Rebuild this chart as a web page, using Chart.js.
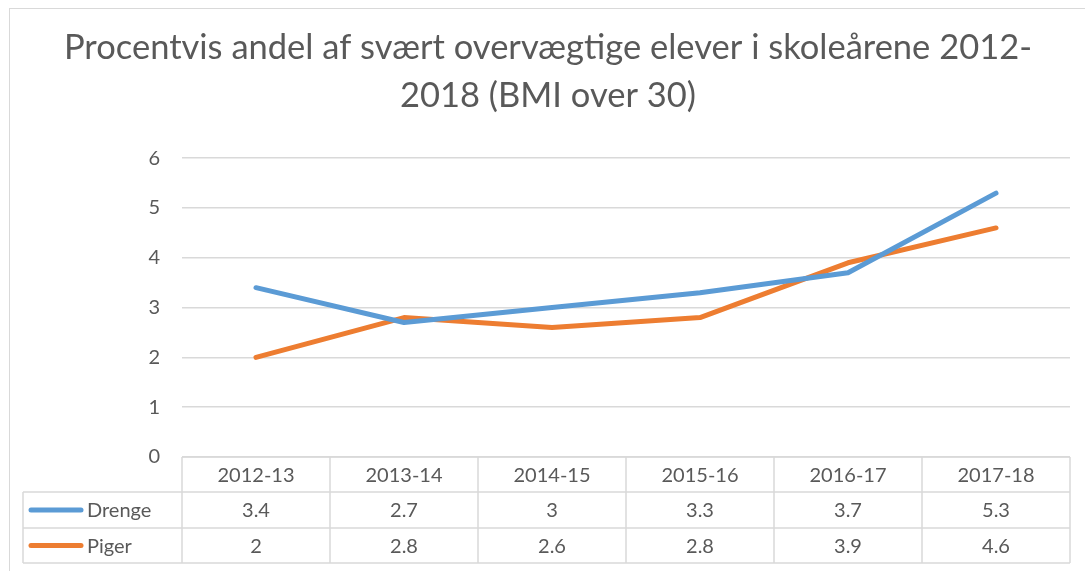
<!DOCTYPE html>
<html>
<head>
<meta charset="utf-8">
<script src="https://cdn.jsdelivr.net/npm/chart.js@4.4.0/dist/chart.umd.min.js"></script>
<style>
  html, body { margin: 0; padding: 0; background: #fff; }
  #wrap { position: relative; width: 1085px; height: 571px; }
  #frame { position: absolute; left: 9px; top: 8px; width: 1090px; height: 580px; border: 1px solid #d9d9d9; box-sizing: border-box; }
  canvas { position: absolute; left: 0; top: 0; }
</style>
</head>
<body>
<div id="wrap">
  <div id="frame"></div>
  <canvas id="myChart" width="1085" height="571"></canvas>
</div>
<script>
// data
var years = ['2012-13', '2013-14', '2014-15', '2015-16', '2016-17', '2017-18'];
var drenge = [3.4, 2.7, 3, 3.3, 3.7, 5.3];
var piger = [2, 2.8, 2.6, 2.8, 3.9, 4.6];
var drengeLabels = ['3.4', '2.7', '3', '3.3', '3.7', '5.3'];
var pigerLabels = ['2', '2.8', '2.6', '2.8', '3.9', '4.6'];

var fontName = 'Lato, "Open Sans", sans-serif';
var textColor = '#595959';
var gridColor = '#d9d9d9';

// data table below the plot, positioned from the x scale
var tablePlugin = {
  id: 'dataTable',
  afterDraw: function (chart) {
    var c = chart.ctx;
    var x = chart.scales.x;
    var area = chart.chartArea;
    var half = (x.getPixelForValue(1) - x.getPixelForValue(0)) / 2;
    var left = x.getPixelForValue(0) - half;
    var right = x.getPixelForValue(years.length - 1) + half;
    var legendLeft = 23;
    var rows = [area.bottom, area.bottom + 35, area.bottom + 71, area.bottom + 106];
    var series = [
      { name: 'Drenge', color: '#5b9bd5', vals: drengeLabels },
      { name: 'Piger', color: '#ed7d31', vals: pigerLabels }
    ];

    c.save();
    c.strokeStyle = gridColor;
    c.lineWidth = 1.5;
    // horizontal lines
    c.beginPath();
    c.moveTo(left, rows[0]); c.lineTo(right, rows[0]);
    for (var r = 1; r < rows.length; r++) {
      c.moveTo(legendLeft, rows[r]); c.lineTo(right, rows[r]);
    }
    // vertical lines
    for (var i = 0; i <= years.length; i++) {
      var vx = left + i * half * 2;
      c.moveTo(vx, rows[0]); c.lineTo(vx, rows[3]);
    }
    c.moveTo(legendLeft, rows[1]); c.lineTo(legendLeft, rows[3]);
    c.stroke();

    c.fillStyle = textColor;
    c.font = '20px ' + fontName;
    c.textAlign = 'center';
    c.textBaseline = 'middle';
    years.forEach(function (y, i) {
      c.fillText(y, x.getPixelForValue(i), (rows[0] + rows[1]) / 2 + 1);
    });
    series.forEach(function (s, k) {
      var cy = (rows[k + 1] + rows[k + 2]) / 2 + 1;
      s.vals.forEach(function (v, i) {
        c.fillText(v, x.getPixelForValue(i), cy);
      });
      c.strokeStyle = s.color;
      c.lineWidth = 5;
      c.lineCap = 'round';
      c.beginPath();
      c.moveTo(31, cy - 1); c.lineTo(81, cy - 1);
      c.stroke();
      c.textAlign = 'left';
      c.fillText(s.name, 87, cy);
      c.textAlign = 'center';
    });
    c.restore();
  }
};

var ctx = document.getElementById('myChart').getContext('2d');
var chart = new Chart(ctx, {
  type: 'line',
  data: {
    labels: years,
    datasets: [{
      label: 'Drenge',
      data: drenge,
      borderColor: '#5b9bd5',
      backgroundColor: '#5b9bd5',
      borderWidth: 5,
      pointRadius: 0,
      borderCapStyle: 'round',
      borderJoinStyle: 'round',
      tension: 0
    }, {
      label: 'Piger',
      data: piger,
      borderColor: '#ed7d31',
      backgroundColor: '#ed7d31',
      borderWidth: 5,
      pointRadius: 0,
      borderCapStyle: 'round',
      borderJoinStyle: 'round',
      tension: 0
    }]
  },
  options: {
    responsive: false,
    animation: false,
    layout: { padding: { left: 26, right: 15, top: 24, bottom: 114 } },
    plugins: {
      legend: { display: false },
      tooltip: { enabled: false },
      title: {
        display: true,
        text: ['Procentvis andel af svært overvægtige elever i skoleårene 2012-', '2018 (BMI over 30)'],
        color: textColor,
        font: { family: fontName, size: 34.5, weight: 'normal', lineHeight: 1.38 },
        padding: { top: 0, bottom: 39 }
      }
    },
    scales: {
      x: {
        offset: true,
        grid: { display: false, drawTicks: false },
        border: { display: false },
        ticks: { display: false }
      },
      y: {
        min: 0,
        max: 6,
        ticks: { stepSize: 1, padding: 22, color: textColor, font: { family: fontName, size: 20 } },
        grid: { color: gridColor, lineWidth: 1.5, drawTicks: false },
        border: { display: false },
        afterFit: function (scale) { scale.width = 156; }
      }
    }
  },
  plugins: [tablePlugin]
});
</script>
</body>
</html>
